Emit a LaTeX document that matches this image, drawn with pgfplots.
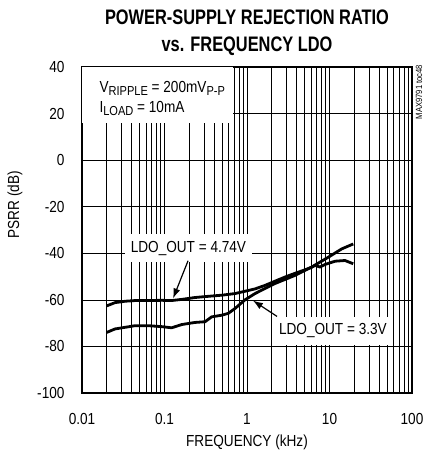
\documentclass[border=0pt]{standalone}
\usepackage{fontspec}
\setmainfont{Liberation Sans}[FakeStretch=0.85]
\newfontfamily\titlefont{Liberation Sans}[FakeStretch=0.78]
\usepackage{pgfplots}
\usepackage{pgfplotstable}
\pgfplotsset{compat=1.18}
\usetikzlibrary{arrows.meta}
\pgfplotsset{layers/mylayers/.define layer set={axis background,axis grid,main,axis ticks,axis lines,axis tick labels,axis descriptions,axis foreground}{}}

\pgfplotstableread{
f psrr
0.0199 -62.6
0.0251 -61.2
0.0332 -60.6
0.044 -60.3
0.064 -60.3
0.092 -60.2
0.122 -60.3
0.162 -59.8
0.234 -59.0
0.31 -58.6
0.493 -58.0
0.716 -57.3
0.946 -56.3
1.25 -55.3
1.65 -53.8
2.18 -52.0
2.89 -50.2
3.82 -48.6
5.05 -47.1
6.08 -46.0
6.67 -45.2
7.67 -45.9
8.81 -44.8
11.7 -43.4
15.4 -43.1
19.4 -44.5
}\highV

\pgfplotstableread{
f psrr
0.0199 -74.0
0.0251 -72.5
0.0439 -71.1
0.0636 -71.1
0.0925 -71.5
0.122 -72.0
0.162 -70.6
0.234 -69.7
0.31 -69.4
0.373 -67.3
0.493 -66.6
0.593 -65.8
0.716 -63.7
0.946 -60.0
1.25 -57.3
2.18 -53.0
3.82 -49.5
6.08 -45.9
9.66 -41.7
14.1 -38.1
19.4 -36.0
}\lowV

\begin{document}
\begin{tikzpicture}[font=\fontsize{16}{19}\selectfont]
\begin{axis}[
  set layers=mylayers,
  clip mode=individual,
  scale only axis,
  width=330pt, height=326pt,
  xmode=log,
  xmin=0.01, xmax=100,
  ymin=-100, ymax=40,
  xtick={0.01,0.1,1,10,100},
  xticklabels={0.01,0.1,1,10,100},
  minor xtick={0.02,0.03,0.04,0.05,0.06,0.07,0.08,0.09,0.2,0.3,0.4,0.5,0.6,0.7,0.8,0.9,2,3,4,5,6,7,8,9,20,30,40,50,60,70,80,90},
  ytick={-100,-80,-60,-40,-20,0,20,40},
  yticklabels={-100,-80,-60,-40,-20,0,20,40},
  minor y tick num=0,
  grid=both,
  major grid style={black, line width=0.7pt},
  minor grid style={black, line width=0.7pt},
  tick style={black, line width=0.7pt},
  major tick length=7pt, minor tick length=7pt,
  tick align=inside,
  axis line style={line width=2pt},
  xticklabel style={anchor=base, yshift=-31pt},
  yticklabel style={anchor=east, xshift=-14pt},
]
\addplot[black, line width=2.8pt, line join=round] table[x=f, y=psrr] {\highV};
\addplot[black, line width=2.8pt, line join=round] table[x=f, y=psrr] {\lowV};

% top-left condition box
\node[fill=white, anchor=north west, minimum width=151pt, minimum height=56pt, inner sep=0pt] at (rel axis cs:0,1) {};
\node[anchor=base west, xshift=14pt, yshift=-26pt] at (rel axis cs:0,1)
  {V\raisebox{-3pt}{\fontsize{13}{13}\selectfont RIPPLE} = 200mV\raisebox{-3pt}{\fontsize{13}{13}\selectfont P-P}};
\node[anchor=base west, xshift=14pt, yshift=-46pt] at (rel axis cs:0,1)
  {I\raisebox{-3pt}{\fontsize{13}{13}\selectfont LOAD} = 10mA};

% curve labels
\node[fill=white, inner xsep=6pt, inner ysep=0pt, minimum height=28pt] at (axis cs:0.195,-37.9) {LDO\_OUT = 4.74V};
\node[fill=white, inner xsep=5pt, inner ysep=0pt, minimum height=28pt] at (axis cs:11.0,-73.3) {LDO\_OUT = 3.3V};
\draw[-{Latex[length=10pt,width=7pt]}, line width=1.2pt] (axis cs:0.193,-43.2) -- (axis cs:0.127,-59.4);
\draw[-{Latex[length=10pt,width=7pt]}, line width=1.2pt] (axis cs:2.31,-67.1) -- (axis cs:1.18,-60.3);

% titles and labels
\node[anchor=base, yshift=42pt, font=\titlefont\bfseries\fontsize{21}{24}\selectfont] at (rel axis cs:0.5,1) {POWER-SUPPLY REJECTION RATIO};
\node[anchor=base, yshift=15pt, font=\titlefont\bfseries\fontsize{21}{24}\selectfont] at (rel axis cs:0.5,1) {vs. FREQUENCY LDO};
\node[anchor=base, yshift=-53pt] at (rel axis cs:0.5,0) {FREQUENCY (kHz)};
\node[rotate=90] at ([xshift=-67pt]rel axis cs:0,0.577) {PSRR (dB)};
\node[rotate=90, font=\fontsize{9}{10}\selectfont] at ([xshift=7pt]rel axis cs:1,0.923) {MAX9791 toc48};
\end{axis}
\pgfresetboundingbox
\path ([xshift=-82pt,yshift=-72pt]current axis.south west) rectangle ([xshift=13pt,yshift=67pt]current axis.north east);
\end{tikzpicture}
\end{document}
